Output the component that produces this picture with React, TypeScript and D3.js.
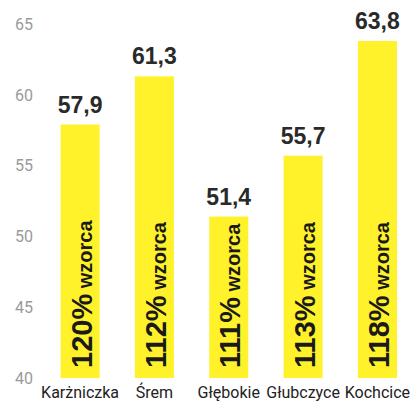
import React from 'react';
import * as d3 from 'd3';

const categories = ['Karżniczka', 'Śrem', 'Głębokie', 'Głubczyce', 'Kochcice'];
const values = [57.9, 61.3, 51.4, 55.7, 63.8];
const percents = ['120%', '112%', '111%', '113%', '118%'];
const yTicks = [40, 45, 50, 55, 60, 65];

const W = 417;
const H = 402;

const App: React.FC = () => {
  const x = d3
    .scaleBand<string>()
    .domain(categories)
    .range([42, 415.5])
    .paddingInner(0.475)
    .paddingOuter(0.25);

  const y = d3.scaleLinear().domain([40, 65]).range([378, 24]);
  const bw = x.bandwidth();

  return (
    <svg
      width={W}
      height={H}
      viewBox={`0 0 ${W} ${H}`}
      style={{ position: 'absolute', left: 0, top: 0, background: '#fff' }}
    >
      {/* oś Y */}
      {yTicks.map((t) => (
        <text
          key={t}
          x={33}
          y={y(t)}
          dy="0.36em"
          textAnchor="end"
          fontFamily="Roboto, sans-serif"
          fontSize={16}
          fill="#9a9a9a"
        >
          {t}
        </text>
      ))}

      {categories.map((c, i) => {
        const x0 = x(c) ?? 0;
        const cx = x0 + bw / 2;
        const v = values[i];
        return (
          <g key={c}>
            <rect x={x0} y={y(v)} width={bw} height={y(40) - y(v)} fill="#fff22a" />
            <text
              x={cx}
              y={y(v) - 12}
              textAnchor="middle"
              fontFamily="Liberation Sans, Arial, sans-serif"
              fontWeight="bold"
              fontSize={23}
              fill="#2a2a2a"
            >
              {d3.format('.1f')(v).replace('.', ',')}
            </text>
            <text
              transform={`translate(${cx + 11.5}, ${y(40) - 10}) rotate(-90)`}
              fontFamily="Liberation Sans, Arial, sans-serif"
              fontWeight="bold"
              fill="#1a1a1a"
            >
              <tspan fontSize={29}>{percents[i]}</tspan>
              <tspan fontSize={20}> wzorca</tspan>
            </text>
            <text
              x={cx}
              y={398}
              textAnchor="middle"
              fontFamily="Roboto, sans-serif"
              fontSize={16}
              fill="#222"
            >
              {c}
            </text>
          </g>
        );
      })}
    </svg>
  );
};

export default App;
